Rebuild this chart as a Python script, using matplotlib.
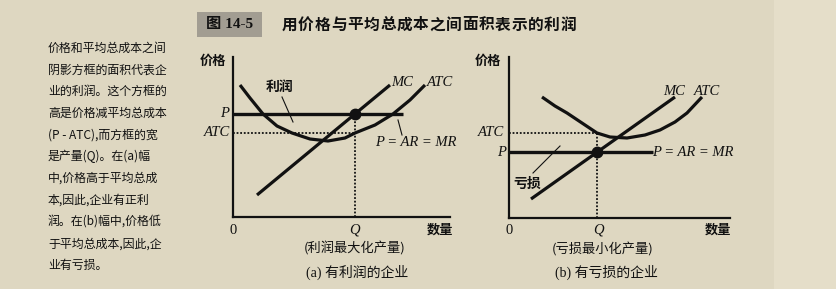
import matplotlib
matplotlib.use("Agg")
import matplotlib.pyplot as plt
from matplotlib.patches import Rectangle

# ---------------- data ----------------
# Panel (a): firm with profits
atc_a_q = [0.35, 0.85, 1.5, 2.2, 2.95, 3.85, 4.75, 5.6, 6.1, 7.1, 8.0, 8.85, 9.6]
atc_a_c = [6.6, 5.95, 5.15, 4.55, 4.2, 3.9, 3.8, 3.95, 4.2, 4.6, 5.15, 5.85, 6.6]
mc_a_q = [1.2, 7.85]
mc_a_c = [1.1, 6.6]
p_a = 5.15
atc_level_a = 4.2
q_a = 6.1
p_end_a = 8.5

# Panel (b): firm with losses
atc_b_q = [1.65, 2.3, 2.9, 3.65, 4.4, 5.05, 5.9, 6.8, 7.55, 8.3, 8.9, 9.65]
atc_b_c = [6.05, 5.6, 5.25, 4.75, 4.25, 4.05, 4.0, 4.15, 4.4, 4.8, 5.25, 6.05]
mc_b_q = [1.1, 8.3]
mc_b_c = [0.95, 6.05]
p_b = 3.3
atc_level_b = 4.25
q_b = 4.4
p_end_b = 7.2

title_tag = "图 14-5"
title_text = "用价格与平均总成本之间面积表示的利润"
side_lines = [
    "价格和平均总成本之间",
    "阴影方框的面积代表企",
    "业的利润。这个方框的",
    "高是价格减平均总成本",
    "(P - ATC),而方框的宽",
    "是产量(Q)。在(a)幅",
    "中,价格高于平均总成",
    "本,因此,企业有正利",
    "润。在(b)幅中,价格低",
    "于平均总成本,因此,企",
    "业有亏损。",
]

# ---------------- style ----------------
BG = "#DED7C1"
BG2 = "#E5DEC9"
INK = "#111111"
CJK = ["Noto Sans CJK SC", "DejaVu Sans"]
SERIF = ["Liberation Serif", "Noto Sans CJK SC"]

W, H = 837, 289
fig = plt.figure(figsize=(W / 100, H / 100), dpi=100, facecolor=BG)

# overlay in pixel coordinates for page decorations
ov = fig.add_axes([0, 0, 1, 1], zorder=0)
ov.set_xlim(0, W)
ov.set_ylim(H, 0)
ov.axis("off")
ov.add_patch(Rectangle((774, 0), W - 774, H, facecolor=BG2, edgecolor="none"))
ov.add_patch(Rectangle((197, 12), 65, 25, facecolor="#A29D92", edgecolor="none"))
ov.text(229.5, 24.5, title_tag, family=SERIF, fontsize=11, fontweight="bold",
        color=INK, ha="center", va="center")
# title characters with the book's wide letter spacing
for i, ch in enumerate(title_text):
    ov.text(282 + 7.5 + 16.4 * i, 24.5, ch, family=CJK, fontsize=11.3,
            fontweight="bold", color=INK, ha="center", va="center")
for i, line in enumerate(side_lines):
    ov.text(48, 48 + i * 21.75, line, family=CJK, fontsize=8.6, color=INK,
            fontweight="medium", ha="left", va="center")


def make_panel(px0, py0, px1, py1, xmax, ymax):
    ax = fig.add_axes([px0 / W, (H - py0) / H, (px1 - px0) / W, (py0 - py1) / H], zorder=2)
    ax.set_xlim(0, xmax)
    ax.set_ylim(0, ymax)
    ax.patch.set_alpha(0)
    for s in ["top", "right"]:
        ax.spines[s].set_visible(False)
    for s in ["left", "bottom"]:
        ax.spines[s].set_linewidth(1.6)
        ax.spines[s].set_color(INK)
    ax.set_xticks([])
    ax.set_yticks([])
    return ax


def it(ax, x, y, s, **kw):
    ax.text(x, y, s, family=["Liberation Serif"], style="italic", fontsize=10.5,
            color=INK, ha="center", va="center", clip_on=False, **kw)


def cj(ax, x, y, s, size=9.5, weight="bold", **kw):
    ax.text(x, y, s, family=CJK, fontsize=size, color=INK, ha="center",
            va="center", clip_on=False, fontweight=weight, **kw)


# ---------------- panel (a) ----------------
axa = make_panel(233, 217, 450, 57, 10.85, 8.0)
axa.plot(atc_a_q, atc_a_c, color=INK, lw=2.3, solid_capstyle="butt",
         solid_joinstyle="round", clip_on=False)
axa.plot(mc_a_q, mc_a_c, color=INK, lw=2.3, solid_capstyle="butt", clip_on=False)
axa.plot([0, p_end_a], [p_a, p_a], color=INK, lw=2.4, solid_capstyle="butt")
axa.plot([0, q_a], [atc_level_a, atc_level_a], color=INK, lw=1.3, ls=(0, (1, 1)))
axa.plot([q_a, q_a], [0, p_a], color=INK, lw=1.3, ls=(0, (1, 1)))
axa.plot([q_a], [p_a], "o", color=INK, ms=7.5, zorder=5)
axa.plot([2.45, 3.0], [6.0, 4.75], color=INK, lw=0.8)
axa.plot([8.25, 8.45], [4.85, 4.1], color=INK, lw=0.8)
cj(axa, -1.0, 7.8, "价格")
cj(axa, 2.35, 6.5, "利润", size=10)
it(axa, 8.45, 6.7, "MC")
it(axa, 10.35, 6.7, "ATC")
it(axa, -0.4, p_a, "P")
it(axa, -0.8, atc_level_a, "ATC")
it(axa, 9.15, 3.7, "P = AR = MR")
axa.text(0, -0.65, "0", family=["Liberation Serif"], fontsize=10.5, color=INK,
         ha="center", va="center", clip_on=False)
it(axa, q_a, -0.65, "Q")
cj(axa, 10.35, -0.65, "数量")
cj(axa, 6.1, -1.55, "(利润最大化产量)", weight="medium")
axa.text(6.2, -2.75, "(a) 有利润的企业", family=SERIF, fontsize=10, color=INK,
         ha="center", va="center", clip_on=False)

# ---------------- panel (b) ----------------
axb = make_panel(509, 218, 730, 57, 11.05, 8.05)
axb.plot(atc_b_q, atc_b_c, color=INK, lw=2.3, solid_capstyle="butt",
         solid_joinstyle="round", clip_on=False)
axb.plot(mc_b_q, mc_b_c, color=INK, lw=2.3, solid_capstyle="butt", clip_on=False)
axb.plot([0, p_end_b], [p_b, p_b], color=INK, lw=2.4, solid_capstyle="butt")
axb.plot([0, q_b], [atc_level_b, atc_level_b], color=INK, lw=1.3, ls=(0, (1, 1)))
axb.plot([q_b, q_b], [0, atc_level_b], color=INK, lw=1.3, ls=(0, (1, 1)))
axb.plot([q_b], [p_b], "o", color=INK, ms=7.5, zorder=5)
axb.plot([2.55, 1.2], [3.6, 2.25], color=INK, lw=0.8)
cj(axb, -1.05, 7.85, "价格")
cj(axb, 0.93, 1.7, "亏损", size=10)
it(axb, 8.25, 6.35, "MC")
it(axb, 9.9, 6.35, "ATC")
it(axb, -0.9, atc_level_b, "ATC")
it(axb, -0.35, p_b, "P")
it(axb, 9.2, p_b, "P = AR = MR")
axb.text(0, -0.6, "0", family=["Liberation Serif"], fontsize=10.5, color=INK,
         ha="center", va="center", clip_on=False)
it(axb, q_b + 0.05, -0.6, "Q")
cj(axb, 10.45, -0.6, "数量")
cj(axb, 4.7, -1.6, "(亏损最小化产量)", weight="medium")
axb.text(4.85, -2.7, "(b) 有亏损的企业", family=SERIF, fontsize=10, color=INK,
         ha="center", va="center", clip_on=False)

fig.savefig("out.png", dpi=100, facecolor=BG)
